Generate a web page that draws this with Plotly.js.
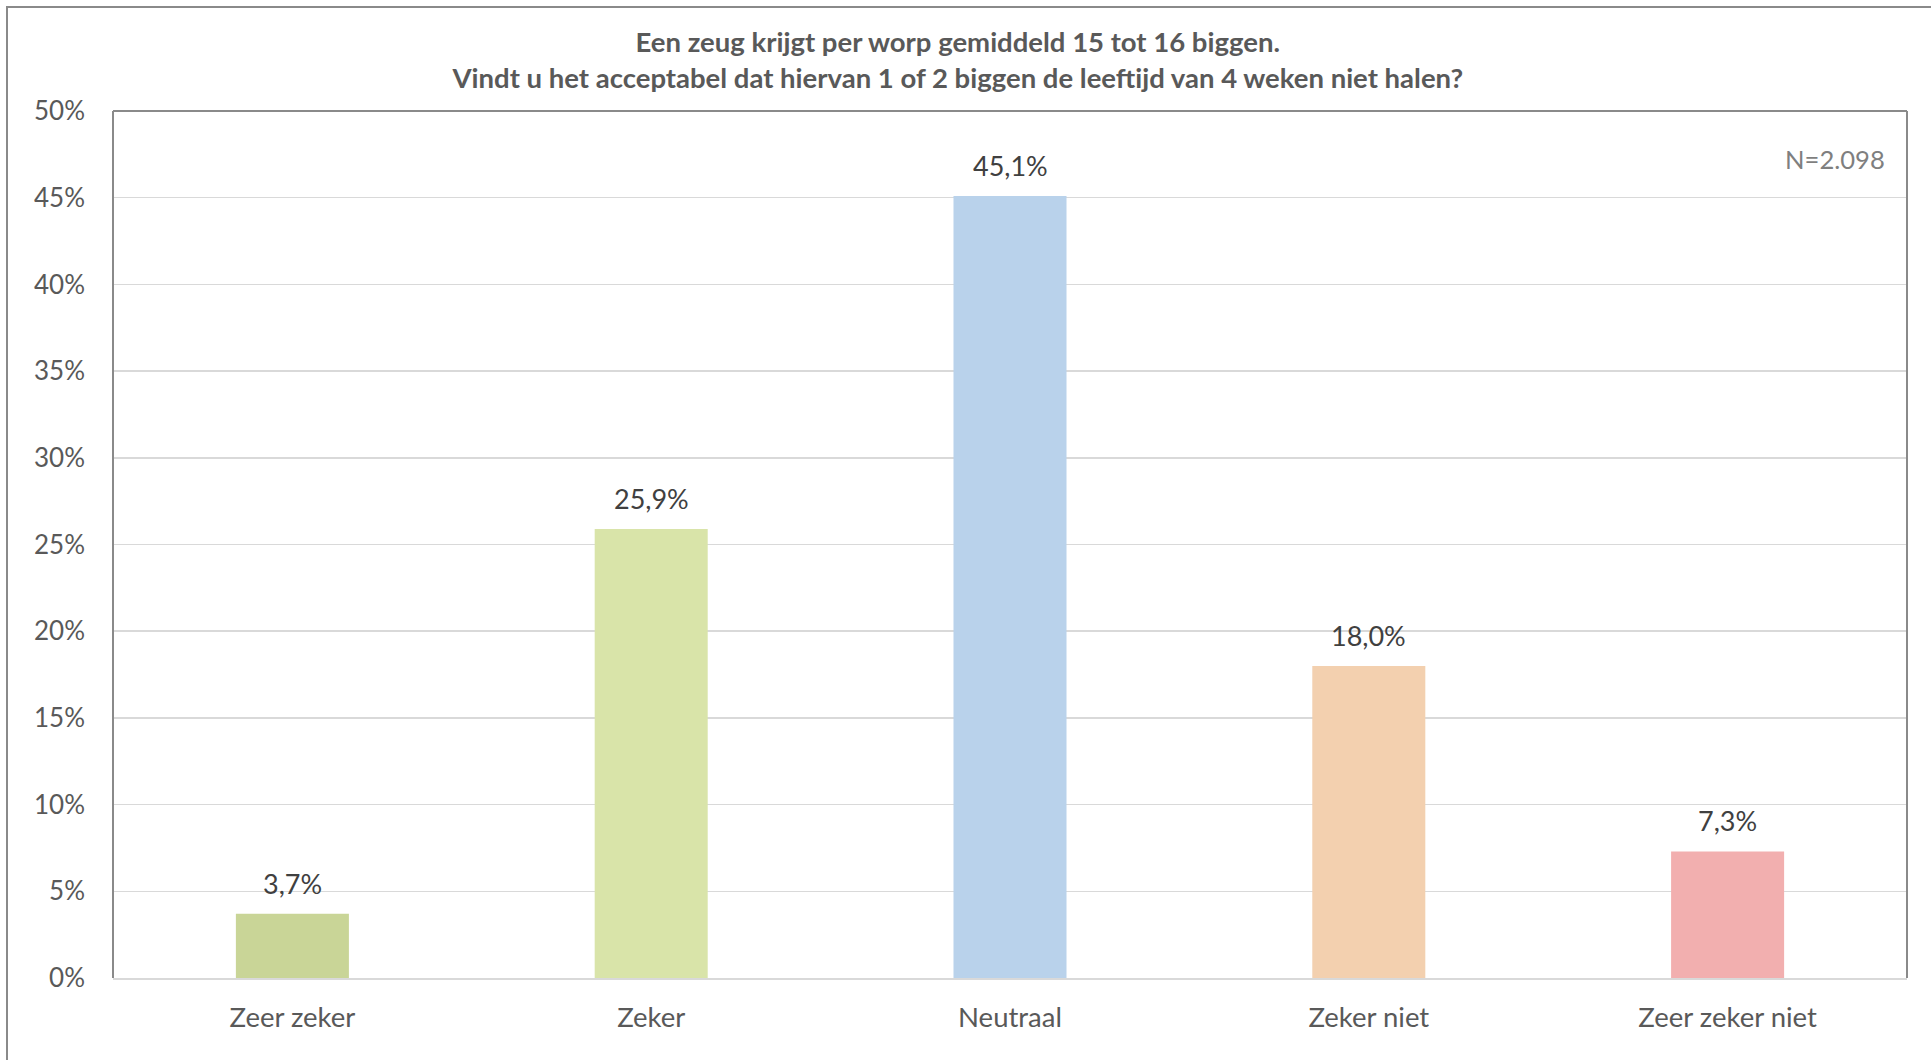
<!DOCTYPE html>
<html>
<head>
<meta charset="utf-8">
<script src="https://cdn.plot.ly/plotly-3.0.1.min.js"></script>
<style>
html,body{margin:0;padding:0;background:#fff;}
#chart{position:absolute;left:0;top:0;width:1931px;height:1060px;}
#frame{position:absolute;left:6px;top:6px;width:2000px;height:2000px;border-left:2px solid #8a8a8a;border-top:2px solid #8a8a8a;pointer-events:none;}
</style>
</head>
<body>
<div id="chart"></div>
<div id="frame"></div>
<script>
const categories = ["Zeer zeker", "Zeker", "Neutraal", "Zeker niet", "Zeer zeker niet"];
const values = [3.7, 25.9, 45.1, 18.0, 7.3];
const barColors = ["#C9D597", "#D9E4A9", "#B9D2EB", "#F3D0AF", "#F2AFAF"];
const titleLines = ["Een zeug krijgt per worp gemiddeld 15 tot 16 biggen.",
  "Vindt u het acceptabel dat hiervan 1 of 2 biggen de leeftijd van 4 weken niet halen?"];
const sampleNote = "N=2.098";

const FONT = "Lato, 'Open Sans', sans-serif";

const trace = {
  type: "bar",
  x: categories,
  y: values,
  marker: {color: barColors},
  hoverinfo: "x+y"
};

const valueLabels = categories.map((c, i) => ({
  x: c, y: values[i], xref: "x", yref: "y",
  text: values[i].toFixed(1).replace(".", ",") + "%",
  showarrow: false, yanchor: "bottom", yshift: 12,
  font: {family: FONT, size: 27, color: "#404040"}
}));

const lineStyle = {color: "#8a8a8a", width: 2};
const layout = {
  width: 1931, height: 1060,
  margin: {l: 113, r: 24, t: 111, b: 82},
  paper_bgcolor: "#ffffff",
  plot_bgcolor: "#ffffff",
  separators: ",.",
  font: {family: FONT, color: "#595959"},
  bargap: 0.685,
  showlegend: false,
  title: {
    text: "<b>" + titleLines.join("<br>") + "</b>",
    font: {family: FONT, size: 27.5, color: "#595959"},
    x: 0.496, xref: "container", xanchor: "center",
    y: 1 - 52/1060, yref: "container", yanchor: "middle"
  },
  xaxis: {
    showline: true, linecolor: "#d9d9d9", linewidth: 2,
    ticks: "", showgrid: false,
    tickfont: {family: FONT, size: 27.5, color: "#595959"},
    ticklabelstandoff: 14
  },
  yaxis: {
    range: [0, 50], dtick: 5, ticksuffix: "%",
    showgrid: true, gridcolor: "#d9d9d9", gridwidth: 1.5,
    zeroline: false, showline: false,
    tickfont: {family: FONT, size: 26, color: "#595959"},
    ticklabelstandoff: 27
  },
  shapes: [
    {type: "line", xref: "paper", yref: "paper", x0: 0, x1: 0, y0: 0, y1: 1, line: lineStyle},
    {type: "line", xref: "paper", yref: "paper", x0: 0, x1: 1, y0: 1, y1: 1, line: lineStyle},
    {type: "line", xref: "paper", yref: "paper", x0: 1, x1: 1, y0: 0, y1: 1, line: lineStyle}
  ],
  annotations: valueLabels.concat([{
    text: sampleNote, xref: "paper", yref: "paper",
    x: 0.989, y: 0.945, xanchor: "right", yanchor: "middle",
    showarrow: false, font: {family: FONT, size: 25.6, color: "#7f7f7f"}
  }])
};

Plotly.newPlot("chart", [trace], layout, {displayModeBar: false, staticPlot: true});
</script>
</body>
</html>
